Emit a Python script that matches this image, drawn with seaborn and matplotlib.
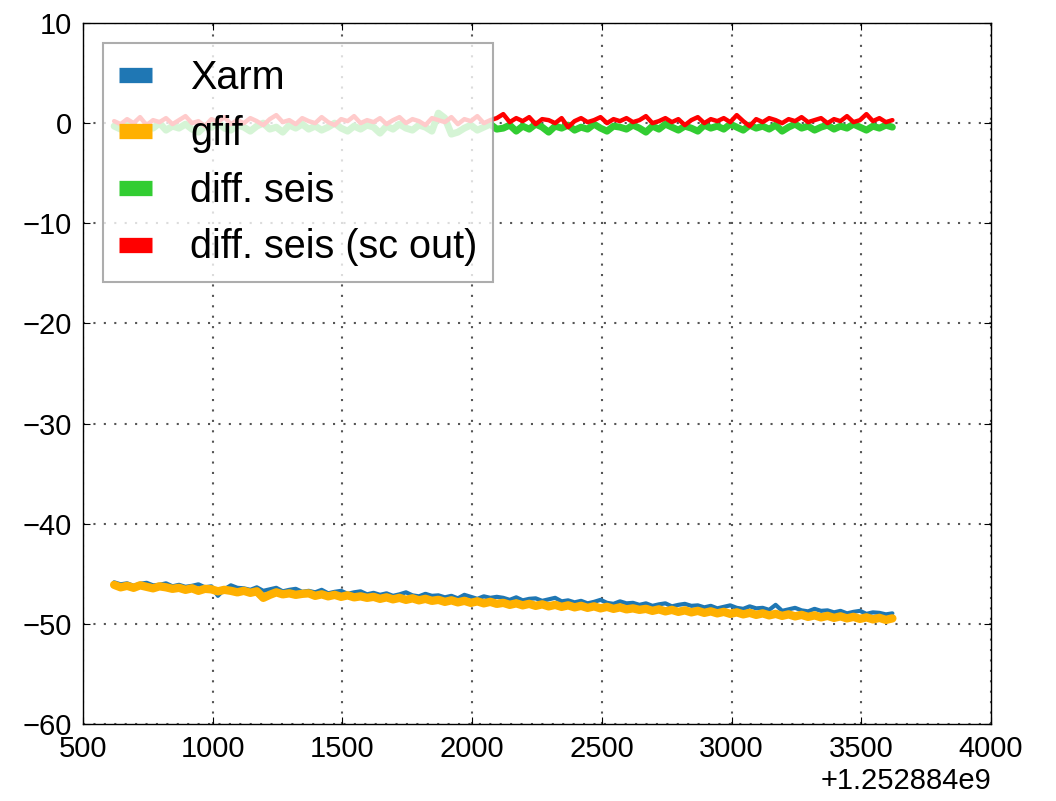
import numpy as np
import pandas as pd
import matplotlib
matplotlib.use("Agg")
import matplotlib.pyplot as plt
import seaborn as sns

# GPS offset and relative sample times (s)
gps_offset = 1252884000
t_rel = [
    620, 645, 670, 695, 720, 745, 770, 795, 820, 845,
    870, 895, 920, 945, 970, 995, 1020, 1045, 1070, 1095,
    1120, 1145, 1170, 1195, 1220, 1245, 1270, 1295, 1320, 1345,
    1370, 1395, 1420, 1445, 1470, 1495, 1520, 1545, 1570, 1595,
    1620, 1645, 1670, 1695, 1720, 1745, 1770, 1795, 1820, 1845,
    1870, 1895, 1920, 1945, 1970, 1995, 2020, 2045, 2070, 2095,
    2120, 2145, 2170, 2195, 2220, 2245, 2270, 2295, 2320, 2345,
    2370, 2395, 2420, 2445, 2470, 2495, 2520, 2545, 2570, 2595,
    2620, 2645, 2670, 2695, 2720, 2745, 2770, 2795, 2820, 2845,
    2870, 2895, 2920, 2945, 2970, 2995, 3020, 3045, 3070, 3095,
    3120, 3145, 3170, 3195, 3220, 3245, 3270, 3295, 3320, 3345,
    3370, 3395, 3420, 3445, 3470, 3495, 3520, 3545, 3570, 3595,
    3620,
]

xarm = [
    -45.85, -46.05, -45.95, -46.20, -46.00, -45.90, -46.15, -46.10, -45.95, -46.25,
    -46.10, -46.30, -46.20, -46.05, -46.35, -46.25, -47.20, -46.55, -46.15, -46.40,
    -46.45, -46.60, -46.35, -46.70, -46.55, -46.40, -46.75, -46.60, -46.50, -46.80,
    -46.70, -46.85, -46.60, -46.95, -46.80, -46.70, -47.00, -46.85, -46.75, -47.05,
    -46.90, -47.10, -46.95, -47.20, -47.05, -46.85, -47.15, -47.25, -47.00, -47.20,
    -47.15, -47.35, -47.20, -47.45, -47.10, -47.30, -47.50, -47.25, -47.40, -47.30,
    -47.40, -47.60, -47.35, -47.65, -47.50, -47.45, -47.70, -47.55, -47.40, -47.75,
    -47.65, -47.85, -47.70, -47.95, -47.80, -47.60, -47.90, -48.00, -47.75, -47.95,
    -47.90, -48.10, -47.95, -48.20, -48.05, -47.95, -48.25, -48.10, -48.00, -48.20,
    -48.15, -48.35, -48.20, -48.45, -48.30, -48.15, -48.40, -48.50, -48.25, -48.45,
    -48.40, -48.60, -48.10, -48.70, -48.55, -48.40, -48.65, -48.75, -48.50, -48.70,
    -48.65, -48.85, -48.70, -48.95, -48.80, -48.70, -49.00, -48.85, -48.90, -49.05,
    -48.95,
]

gfif = [
    -46.10, -46.35, -46.20, -46.40, -46.15, -46.30, -46.45, -46.25, -46.35, -46.50,
    -46.40, -46.60, -46.45, -46.70, -46.50, -46.55, -46.75, -46.60, -46.70, -46.85,
    -46.70, -46.90, -46.75, -47.40, -47.10, -46.85, -47.05, -46.95, -47.10, -47.00,
    -46.95, -47.20, -47.05, -47.25, -47.10, -47.30, -47.15, -47.35, -47.25, -47.40,
    -47.30, -47.50, -47.35, -47.55, -47.40, -47.60, -47.45, -47.65, -47.50, -47.70,
    -47.60, -47.80, -47.65, -47.85, -47.70, -47.90, -47.75, -47.95, -47.80, -48.00,
    -47.90, -48.10, -47.95, -48.15, -48.00, -48.20, -48.05, -48.25, -48.10, -48.30,
    -48.15, -48.35, -48.20, -48.40, -48.25, -48.45, -48.30, -48.50, -48.35, -48.55,
    -48.45, -48.60, -48.50, -48.70, -48.55, -48.75, -48.60, -48.80, -48.65, -48.85,
    -48.70, -48.90, -48.75, -48.95, -48.80, -49.00, -48.85, -49.05, -48.90, -49.10,
    -48.95, -49.15, -49.00, -49.20, -49.05, -49.25, -49.10, -49.30, -49.15, -49.35,
    -49.20, -49.40, -49.25, -49.45, -49.30, -49.50, -49.35, -49.55, -49.40, -49.60,
    -49.45,
]

diff_seis = [
    -0.3, -0.6, -0.1, -0.4, -0.8, -0.2, -0.5, 0.0, -0.7, -0.3,
    -0.5, -0.1, -0.6, -0.9, -0.3, -0.4, 0.1, -0.5, -0.7, -0.2,
    -0.4, -0.8, -0.3, 0.0, -0.6, -0.4, -0.9, -0.2, -0.5, -0.1,
    -0.6, -0.3, -0.7, -0.4, 0.0, -0.5, -0.8, -0.3, -0.6, -0.2,
    -0.4, -1.0, -0.3, -0.6, -0.1, -0.5, -0.7, -0.2, -0.4, -0.8,
    1.0, 0.5, -1.1, -0.9, -0.5, -0.2, -0.7, -0.4, -0.1, -0.6,
    -0.5, -0.2, -0.8, -0.3, -0.6, -0.1, -0.4, -0.9, -0.3, -0.5,
    -0.2, -0.7, -0.4, -0.6, -0.1, -0.5, -0.8, -0.3, -0.4, -0.6,
    -0.2, -0.5, -0.9, -0.3, -0.6, -0.1, -0.4, -0.7, -0.3, -0.5,
    -0.8, -0.2, -0.5, -0.3, -0.6, -0.1, -0.4, -0.7, -0.2, -0.5,
    -0.3, -0.6, -0.2, -0.8, -0.4, -0.1, -0.5, -0.3, -0.7, -0.4,
    -0.2, -0.6, -0.3, -0.5, -0.1, -0.4, -0.7, -0.3, -0.5, -0.2,
    -0.4,
]

diff_seis_sc = [
    0.2, -0.1, 0.4, 0.0, 0.6, -0.2, 0.3, 0.1, 0.5, -0.1,
    0.3, 0.7, 0.0, 0.2, -0.3, 0.4, 0.1, 0.6, -0.1, 0.3,
    0.0, 0.5, 0.2, -0.2, 0.4, 0.8, 0.1, 0.3, -0.1, 0.5,
    0.2, 0.0, 0.6, 0.1, -0.2, 0.4, 0.2, 0.7, 0.0, 0.3,
    0.1, 0.5, -0.1, 0.3, 0.6, 0.0, 0.4, 0.2, -0.2, 0.5,
    0.3, 0.1, 0.6, -0.1, 0.4, 0.2, 0.7, 0.0, 0.3, 0.5,
    0.9, 0.1, 0.5, 0.2, 0.6, -0.1, 0.4, 0.3, 0.0, 0.5,
    -0.4, 0.2, 0.5, 0.1, 0.3, 0.6, 0.0, 0.4, 0.2, 0.5,
    0.1, 0.3, 0.7, 0.0, 0.2, 0.5, 0.1, 0.4, -0.2, 0.3,
    0.6, 0.0, 0.4, 0.2, 0.5, 0.1, 0.8, 0.2, -0.3, 0.4,
    0.1, 0.5, 0.3, 0.0, 0.4, 0.2, 0.6, 0.1, 0.3, 0.5,
    0.0, 0.4, 0.2, 0.7, 0.1, 0.3, 0.9, 0.2, 0.5, 0.1,
    0.3,
]

labels = ["Xarm", "gfif", "diff. seis", "diff. seis (sc out)"]
colors = ["#1f77b4", "#ffb000", "#32cd32", "#ff0000"]
widths = [3.0, 6.0, 5.0, 3.2]

gps = gps_offset + np.array(t_rel)
df = pd.DataFrame({
    "time": np.concatenate([gps] * 4),
    "value": np.concatenate([xarm, gfif, diff_seis, diff_seis_sc]),
    "channel": np.repeat(labels, len(t_rel)),
})

sns.set_style("ticks")
plt.rcParams["font.family"] = ["Liberation Sans", "DejaVu Sans"]
plt.rcParams["text.color"] = "black"
plt.rcParams["xtick.color"] = "black"
plt.rcParams["ytick.color"] = "black"
plt.rcParams["axes.labelcolor"] = "black"

fig = plt.figure(figsize=(10.56, 8.01), dpi=100)
ax = fig.add_axes([0.0786, 0.0961, 0.8598, 0.8752])

for lab, col, lw in zip(labels, colors, widths):
    sns.lineplot(data=df[df["channel"] == lab], x="time", y="value",
                 color=col, linewidth=lw, label=lab, sort=False,
                 estimator=None, ax=ax)

ax.set_xlim(gps_offset + 500, gps_offset + 4000)
ax.set_ylim(-60, 10)
ax.set_xticks(gps_offset + np.arange(500, 4001, 500))
ax.set_yticks(np.arange(-60, 11, 10))
ax.ticklabel_format(axis="x", useOffset=gps_offset, style="plain")
ax.set_xlabel("")
ax.set_ylabel("")

ax.grid(True, linestyle=(0, (1, 4)), color="#555555", linewidth=1.5)
ax.tick_params(direction="in", top=True, right=True, length=5,
               labelsize=21, pad=8, colors="black")
ax.xaxis.get_offset_text().set_fontsize(21)
ax.xaxis.get_offset_text().set_color("black")
for s in ax.spines.values():
    s.set_linewidth(1.0)
    s.set_color("black")

leg = ax.legend(loc="upper left", fontsize=28.5, frameon=True, fancybox=False,
                framealpha=0.8, edgecolor="#999999", handlelength=0.85,
                handletextpad=0.95, labelspacing=0.47, borderpad=0.4)
leg.get_frame().set_linewidth(1.5)
for h in leg.legend_handles:
    h.set_linewidth(11)
    h.set_solid_capstyle("butt")

fig.savefig("out.png", dpi=100)
